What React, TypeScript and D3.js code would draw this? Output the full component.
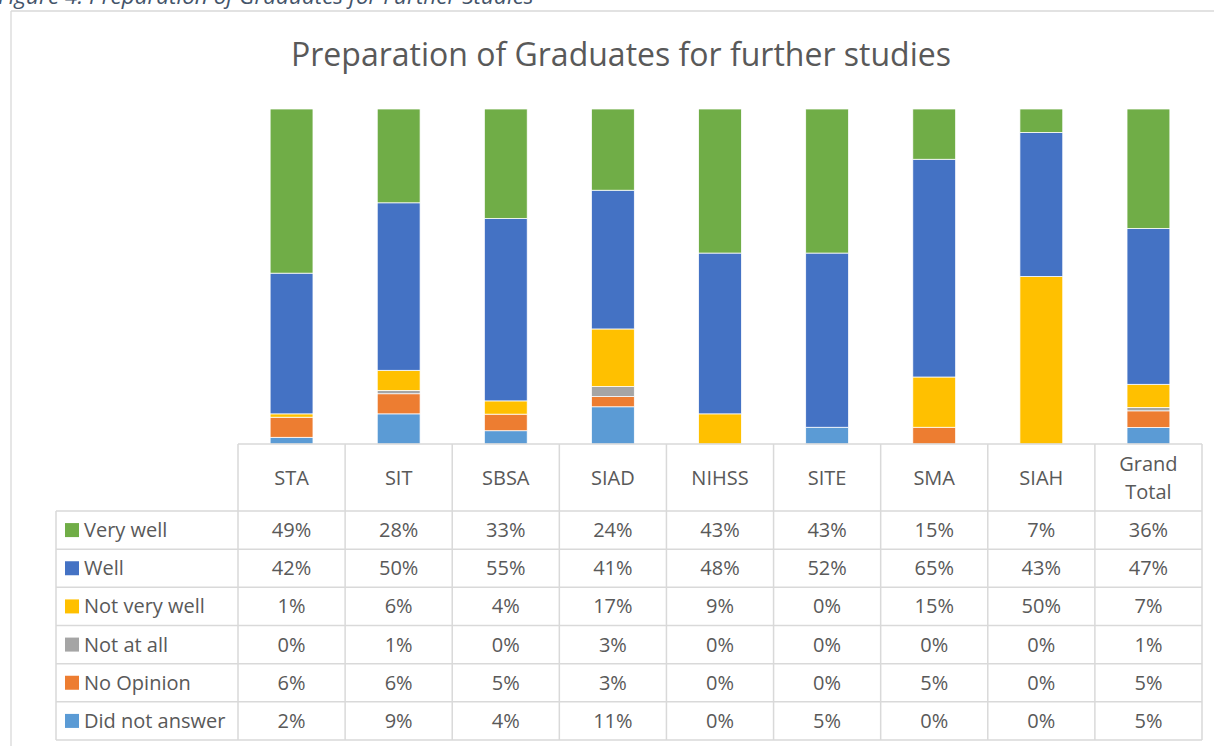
import React from "react";
import * as d3 from "d3";

const categories = ["STA", "SIT", "SBSA", "SIAD", "NIHSS", "SITE", "SMA", "SIAH", "Grand Total"];
const seriesNames = ["Very well", "Well", "Not very well", "Not at all", "No Opinion", "Did not answer"];
const seriesColors = ["#70AD47", "#4472C4", "#FFC000", "#A5A5A5", "#ED7D31", "#5B9BD5"];

const veryWell = [49, 28, 33, 24, 43, 43, 15, 7, 36];
const well = [42, 50, 55, 41, 48, 52, 65, 43, 47];
const notVeryWell = [1, 6, 4, 17, 9, 0, 15, 50, 7];
const notAtAll = [0, 1, 0, 3, 0, 0, 0, 0, 1];
const noOpinion = [6, 6, 5, 3, 0, 0, 5, 0, 5];
const didNotAnswer = [2, 9, 4, 11, 0, 5, 0, 0, 5];

const seriesValues = [veryWell, well, notVeryWell, notAtAll, noOpinion, didNotAnswer];

const W = 1214;
const H = 746;
const FONT = "'Open Sans', 'Noto Sans', sans-serif";
const TEXT = "#595959";
const GRID = "#d9d9d9";

export default function App() {
  const rows = categories.map((c, i) => {
    const r: any = { cat: c };
    seriesNames.forEach((s, j) => (r[s] = seriesValues[j][i]));
    return r;
  });
  // stack bottom-up: Did not answer first
  const stackKeys = [...seriesNames].reverse();
  const stacked = d3.stack<any>().keys(stackKeys).offset(d3.stackOffsetExpand)(rows);

  const tableLeft = 238;
  const tableRight = 1202;
  const legendLeft = 56;
  const plotTop = 109;
  const plotBottom = 444;
  const headerBottom = 511;
  const tableBottom = 740;

  const x = d3.scaleBand<string>().domain(categories).range([tableLeft, tableRight]).paddingInner(0.6).paddingOuter(0.3);
  const cell = d3.scaleBand<string>().domain(categories).range([tableLeft, tableRight]).padding(0);
  const y = d3.scaleLinear().domain([0, 1]).range([plotBottom, plotTop]);
  const rowY = d3.scaleBand<string>().domain(seriesNames).range([headerBottom, tableBottom]).padding(0);

  const colorOf = (k: string) => seriesColors[seriesNames.indexOf(k)];
  const FS = 20;

  return (
    <svg width={W} height={H} style={{ position: "absolute", left: 0, top: 0, background: "#fff" }} fontFamily={FONT}>
      {/* caption */}
      <text x={-2} y={4} fontSize={22.5} fontStyle="italic" fill="#44546A">
        Figure 4: Preparation of Graduates for Further Studies
      </text>
      {/* frame */}
      <line x1={11} y1={11} x2={W} y2={11} stroke={GRID} strokeWidth={1.3} />
      <line x1={11} y1={11} x2={11} y2={H} stroke={GRID} strokeWidth={1.3} />

      {/* title */}
      <text x={621} y={66} textAnchor="middle" fontSize={32} fill={TEXT}>
        Preparation of Graduates for further studies
      </text>

      {/* bars */}
      {stacked.map((layer) => (
        <g key={layer.key} fill={colorOf(layer.key)}>
          {layer.map((d, i) => {
            const h = y(d[0]) - y(d[1]);
            if (h <= 0) return null;
            return (
              <rect
                key={i}
                x={x(categories[i])}
                y={y(d[1])}
                width={x.bandwidth()}
                height={h}
                stroke="#fff"
                strokeWidth={0.75}
              />
            );
          })}
        </g>
      ))}

      {/* data table */}
      <g stroke={GRID} strokeWidth={1.5} fill="none">
        <line x1={tableLeft} y1={plotBottom} x2={tableRight} y2={plotBottom} />
        {seriesNames.map((s) => (
          <line key={s} x1={legendLeft} y1={rowY(s)} x2={tableRight} y2={rowY(s)} />
        ))}
        <line x1={legendLeft} y1={tableBottom} x2={tableRight} y2={tableBottom} />
        <line x1={legendLeft} y1={headerBottom} x2={legendLeft} y2={tableBottom} />
        {categories.map((c) => (
          <line key={c} x1={cell(c)} y1={plotBottom} x2={cell(c)} y2={tableBottom} />
        ))}
        <line x1={tableRight} y1={plotBottom} x2={tableRight} y2={tableBottom} />
      </g>

      {/* header labels */}
      {categories.map((c) => {
        const cx = (cell(c) as number) + cell.bandwidth() / 2;
        const parts = c === "Grand Total" ? ["Grand", "Total"] : [c];
        const mid = (plotBottom + headerBottom) / 2;
        return (
          <text key={c} textAnchor="middle" fontSize={FS} fill={TEXT}>
            {parts.map((p, k) => (
              <tspan key={k} x={cx} y={mid + 7 + (k - (parts.length - 1) / 2) * 28}>
                {p}
              </tspan>
            ))}
          </text>
        );
      })}

      {/* legend rows and values */}
      {seriesNames.map((s, j) => {
        const ry = (rowY(s) as number) + rowY.bandwidth() / 2;
        return (
          <g key={s}>
            <rect x={65} y={ry - 7} width={14} height={14} fill={seriesColors[j]} />
            <text x={84} y={ry + 7} fontSize={FS} fill={TEXT}>
              {s}
            </text>
            {categories.map((c, i) => (
              <text
                key={c}
                x={(cell(c) as number) + cell.bandwidth() / 2}
                y={ry + 7}
                textAnchor="middle"
                fontSize={FS}
                fill={TEXT}
              >
                {seriesValues[j][i]}%
              </text>
            ))}
          </g>
        );
      })}
    </svg>
  );
}
